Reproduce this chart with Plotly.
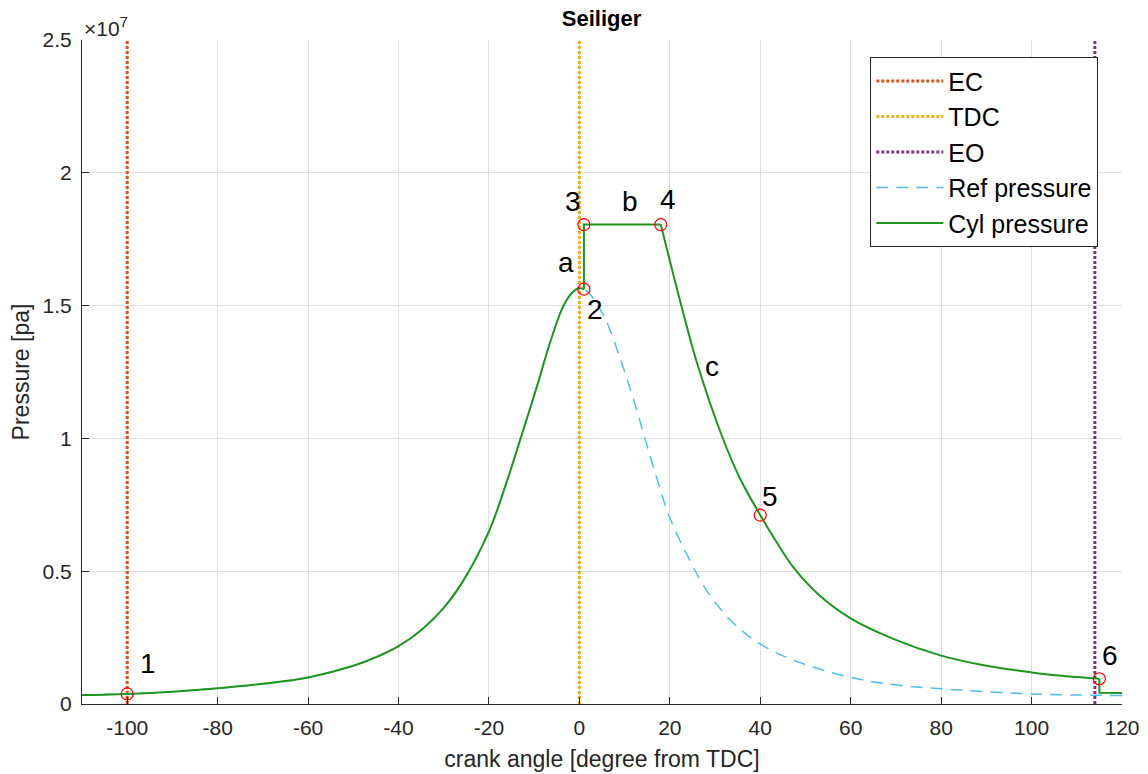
import plotly.graph_objects as go

# ---------------- data ----------------
EC = -100
TDC = 0
EO = 114

# compression (shared by cyl & ref pressure)
comp_angle = [-110, -100, -90, -80, -70, -60, -50, -45, -40, -35, -30, -26, -20, -16, -13, -9.4, -6.5, -3.5, -1.3, 0, 1]
comp_p = [3.35e5, 3.8e5, 4.65e5, 5.9e5, 7.6e5, 1.0e6, 1.44e6, 1.76e6, 2.18e6, 2.78e6, 3.62e6, 4.55e6, 6.5e6,
          8.4e6, 1.0e7, 1.195e7, 1.36e7, 1.50e7, 1.554e7, 1.565e7, 1.562e7]

# combustion: 2 -> 3 (a), 3 -> 4 (b)
comb_angle = [1, 1, 18]
comb_p = [1.562e7, 1.805e7, 1.805e7]

# expansion 4 -> 6 (c)
exp_angle = [18, 20.5, 23, 26, 31.5, 35.5, 40, 43.6, 47.3, 53, 60, 69.4, 80, 90, 100, 106, 115]
exp_p = [1.805e7, 1.635e7, 1.47e7, 1.285e7, 1.01e7, 0.85e7, 0.711e7, 0.61e7, 0.515e7, 0.41e7, 0.322e7,
         0.245e7, 0.182e7, 0.144e7, 0.119e7, 0.107e7, 0.095e7]

# exhaust after EO
exh_angle = [115, 115, 120]
exh_p = [0.095e7, 0.042e7, 0.041e7]

# reference (motored) pressure after TDC
ref_angle = [2, 5.7, 9, 11.9, 14.5, 17.1, 20, 24.5, 28.2, 34, 40, 47.3, 60, 69.4, 80, 100, 120]
ref_p = [1.55e7, 1.451e7, 1.301e7, 1.151e7, 1.0e7, 0.851e7, 0.701e7, 0.538e7, 0.426e7,
         0.305e7, 0.226e7, 0.165e7, 0.10e7, 0.073e7, 0.057e7, 0.038e7, 0.032e7]

pt_angle = [-100, 1, 1, 18, 40, 115]
pt_p = [3.8e5, 1.562e7, 1.805e7, 1.805e7, 0.711e7, 0.095e7]

lbl_text = ["1", "2", "3", "4", "5", "6", "a", "b", "c"]
lbl_angle = [-95.5, 3.5, -1.4, 19.5, 42.1, 117.4, -2.9, 11.2, 29.3]
lbl_p = [1.52e6, 1.484e7, 1.893e7, 1.90e7, 0.782e7, 0.182e7, 1.664e7, 1.893e7, 1.27e7]

YMAX = 2.5e7
yticks = [0, 0.5e7, 1.0e7, 1.5e7, 2.0e7, 2.5e7]
yticktext = ["0", "0.5", "1", "1.5", "2", "2.5"]
xticks = list(range(-100, 121, 20))
xticktext = [str(v) for v in xticks]

# ---------------- styles ----------------
FONT = "Liberation Sans, Arial, Helvetica, sans-serif"
TXT = "#262626"
C_EC = "#D95319"
C_TDC = "#EDB120"
C_EO = "#7E2F8E"
C_REF = "#4DBEEE"
C_CYL = "#1E961E"
SMOOTH = 1.0

fig = go.Figure()

def vline(x, name, color):
    fig.add_trace(go.Scatter(x=[x, x], y=[0, YMAX], mode="lines", name=name,
                             line=dict(color=color, width=3, dash="3px,2px"),
                             legendgroup=name))

vline(EC, "EC", C_EC)
vline(TDC, "TDC", C_TDC)
vline(EO, "EO", C_EO)

fig.add_trace(go.Scatter(x=comp_angle + ref_angle, y=comp_p + ref_p, mode="lines",
                         name="Ref pressure", legendgroup="ref",
                         line=dict(color=C_REF, width=1.5, dash="12px,8px", shape="spline", smoothing=SMOOTH)))

fig.add_trace(go.Scatter(x=comp_angle, y=comp_p, mode="lines", name="Cyl pressure", legendgroup="cyl",
                         line=dict(color=C_CYL, width=2, shape="spline", smoothing=SMOOTH)))
fig.add_trace(go.Scatter(x=comb_angle, y=comb_p, mode="lines", name="Cyl pressure", legendgroup="cyl",
                         showlegend=False, line=dict(color=C_CYL, width=2)))
fig.add_trace(go.Scatter(x=exp_angle, y=exp_p, mode="lines", name="Cyl pressure", legendgroup="cyl",
                         showlegend=False, line=dict(color=C_CYL, width=2, shape="spline", smoothing=SMOOTH)))
fig.add_trace(go.Scatter(x=exh_angle, y=exh_p, mode="lines", name="Cyl pressure", legendgroup="cyl",
                         showlegend=False, line=dict(color=C_CYL, width=2)))

fig.add_trace(go.Scatter(x=pt_angle, y=pt_p, mode="markers", showlegend=False, name="points",
                         marker=dict(symbol="circle-open", size=12, color="#FF0000", line=dict(width=1.2))))

for t, xa, ya in zip(lbl_text, lbl_angle, lbl_p):
    fig.add_annotation(x=xa, y=ya, text=t, showarrow=False,
                       font=dict(family=FONT, size=28, color="#000000"))

fig.add_annotation(xref="paper", yref="paper", x=0.0, y=1.0, xanchor="left", yanchor="bottom",
                   text="×10<sup>7</sup>", showarrow=False, yshift=-2,
                   font=dict(family=FONT, size=21, color=TXT))

axis_common = dict(showgrid=True, gridcolor="#DFDFDF", gridwidth=1, zeroline=False, automargin=False,
                   showline=True, linecolor=TXT, linewidth=1.2, ticks="inside", ticklen=7,
                   tickcolor=TXT, tickfont=dict(family=FONT, size=21, color=TXT))

fig.update_layout(
    width=1148, height=774,
    margin=dict(l=82, r=26, t=40, b=70, autoexpand=False),
    paper_bgcolor="white", plot_bgcolor="white",
    title=dict(text="<b>Seiliger</b>", x=0.524, xanchor="center", y=0.977, yanchor="middle",
               font=dict(family=FONT, size=22, color="#000000")),
    xaxis=dict(range=[-110, 120], tickvals=xticks, ticktext=xticktext, ticklabelstandoff=5,
               title=dict(text="crank angle [degree from TDC]", font=dict(family=FONT, size=23, color=TXT),
                          standoff=12),
               **axis_common),
    yaxis=dict(range=[0, YMAX], tickvals=yticks, ticktext=yticktext, ticklabelstandoff=5,
               title=dict(text="Pressure [pa]", font=dict(family=FONT, size=23, color=TXT), standoff=6),
               **axis_common),
    legend=dict(x=0.758, y=0.974, xanchor="left", yanchor="top", bgcolor="white",
                bordercolor="#262626", borderwidth=1, itemwidth=67, tracegroupgap=0,
                traceorder="grouped",
                font=dict(family=FONT, size=25, color="#000000")),
    showlegend=True,
)

fig.write_html("out.html")
